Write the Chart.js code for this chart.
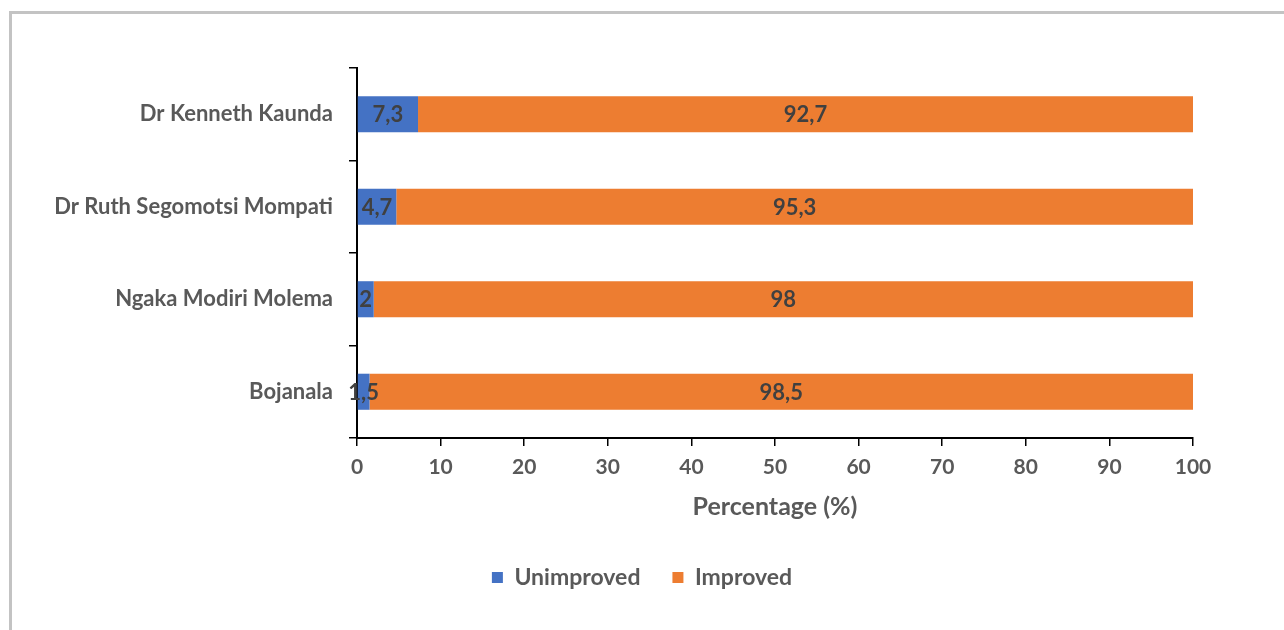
<!DOCTYPE html>
<html>
<head>
<meta charset="utf-8">
<script src="https://cdn.jsdelivr.net/npm/chart.js@4"></script>
<style>
  html, body { margin: 0; padding: 0; background: #ffffff; }
  #wrap { position: relative; width: 1284px; height: 630px; overflow: hidden; }
  #frame {
    position: absolute; left: 9px; top: 11px; right: -10px; bottom: -10px;
    border-top: 3px solid #c3c3c3; border-left: 3px solid #c3c3c3;
  }
  #chart { position: absolute; left: 0; top: 0; }
</style>
</head>
<body>
<div id="wrap">
  <div id="frame"></div>
  <canvas id="chart" width="1284" height="630"></canvas>
</div>
<script>
const districts = ['Dr Kenneth Kaunda', 'Dr Ruth Segomotsi Mompati', 'Ngaka Modiri Molema', 'Bojanala'];
const unimproved = [7.3, 4.7, 2, 1.5];
const improved = [92.7, 95.3, 98, 98.5];
const seriesNames = ['Unimproved', 'Improved'];
const axisTitle = 'Percentage (%)';

const FONT = 'Lato, "Open Sans", sans-serif';
const AXIS_TEXT = '#595959';

// Writes each segment's value (decimal comma) in the middle of its bar
const segmentLabels = {
  id: 'segmentLabels',
  afterDatasetsDraw(chart) {
    const ctx = chart.ctx;
    ctx.save();
    ctx.font = 'bold 22px ' + FONT;
    ctx.fillStyle = '#404040';
    ctx.textAlign = 'center';
    ctx.textBaseline = 'middle';
    chart.data.datasets.forEach((ds, i) => {
      const meta = chart.getDatasetMeta(i);
      meta.data.forEach((bar, j) => {
        const v = ds.data[j];
        const p = bar.getCenterPoint();
        ctx.fillText(String(v).replace('.', ','), p.x, p.y + 1);
      });
    });
    ctx.restore();
  }
};

// Centres the legend on the whole canvas rather than on the padded layout box
const centreLegend = {
  id: 'centreLegend',
  afterLayout(chart) {
    const lg = chart.legend;
    if (!lg) return;
    const shift = chart.width / 2 - (lg.left + lg.right) / 2;
    lg.left += shift;
    lg.right += shift;
  }
};

new Chart(document.getElementById('chart'), {
  type: 'bar',
  data: {
    labels: districts,
    datasets: [
      { label: seriesNames[0], data: unimproved, backgroundColor: '#4472C4' },
      { label: seriesNames[1], data: improved, backgroundColor: '#ED7D31' }
    ]
  },
  options: {
    indexAxis: 'y',
    responsive: false,
    animation: false,
    devicePixelRatio: 1,
    categoryPercentage: 0.5,
    barPercentage: 0.78,
    layout: { padding: { left: 0, top: 68, right: 91, bottom: 31 } },
    scales: {
      x: {
        stacked: true,
        min: 0,
        max: 100,
        afterFit(scale) { scale.height = 96; },
        ticks: {
          stepSize: 10,
          padding: 9,
          color: AXIS_TEXT,
          font: { family: FONT, size: 21, weight: 'bold' }
        },
        grid: { drawOnChartArea: false, drawTicks: true, tickLength: 8, color: '#000000', lineWidth: 1.5 },
        border: { color: '#000000', width: 2 },
        title: {
          display: true,
          text: axisTitle,
          color: AXIS_TEXT,
          font: { family: FONT, size: 25, weight: 'bold' },
          padding: { top: 4, bottom: 12 }
        }
      },
      y: {
        stacked: true,
        afterFit(scale) { scale.width = 357; },
        ticks: {
          padding: 16,
          color: AXIS_TEXT,
          font: { family: FONT, size: 22, weight: 'bold' }
        },
        grid: { drawOnChartArea: false, drawTicks: true, tickLength: 8, offset: true, color: '#000000', lineWidth: 1.5 },
        border: { color: '#000000', width: 2 }
      }
    },
    plugins: {
      legend: {
        position: 'bottom',
        labels: {
          boxWidth: 11,
          boxHeight: 11,
          padding: 32,
          color: AXIS_TEXT,
          font: { family: FONT, size: 23, weight: 'bold' }
        }
      },
      tooltip: { enabled: false }
    }
  },
  plugins: [segmentLabels, centreLegend]
});
</script>
</body>
</html>
